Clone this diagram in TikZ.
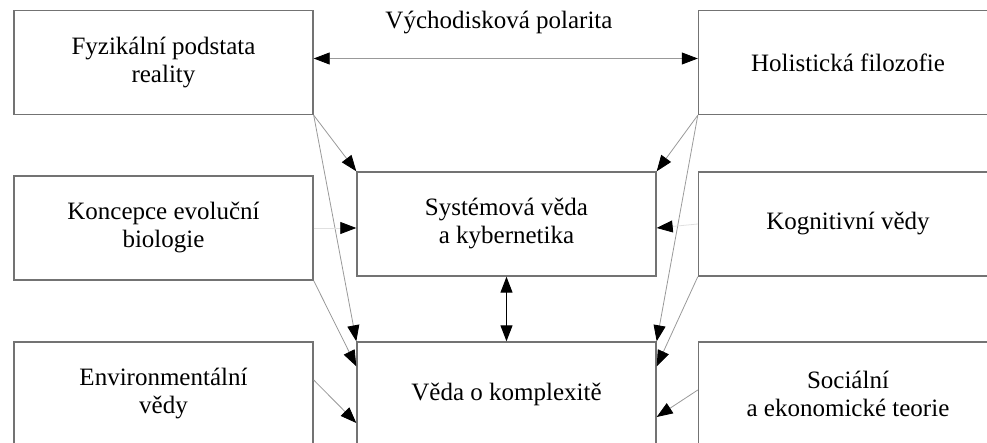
\documentclass[tikz,border=0pt]{standalone}
\usepackage{fontspec}
\setmainfont{Liberation Serif}
\usepackage{tikz}
\usetikzlibrary{arrows.meta}

\begin{document}
\begin{tikzpicture}[x=0.5pt,y=-0.5pt]
    \tikzstyle{box} = [
      draw=black!55,
      line width=0.7pt,
      rectangle,
      anchor=center,
      minimum width=149.5pt,
      minimum height=52pt,
      align=center,
      inner sep=2pt,
      font=\fontsize{12.5}{14}\selectfont,
    ]
    \tikzstyle{dedge}  = [draw=black!40,line width=0.4pt,-{Triangle[length=8pt,width=6pt,color=black]}]
    \tikzstyle{ddedge} = [draw=black!40,line width=0.4pt,{Triangle[length=8pt,width=6pt,color=black]}-{Triangle[length=8pt,width=6pt,color=black]}]
    \tikzstyle{fedge}  = [dedge,draw=black!12]

    \useasboundingbox (0,0) rectangle (987,443);
    \clip (0,0) rectangle (987,443);

    \node[box] (fyz) at (163.5,62.5) {Fyzikální podstata\\reality};
    \node[box] (hol) at (848,62.5) {Holistická filozofie};
    \node[box] (kon) at (163.5,228) {Koncepce evoluční\\biologie};
    \node[box] (sys) at (506.5,224) {Systémová věda\\a kybernetika};
    \node[box] (kog) at (848,224) {Kognitivní vědy};
    \node[box] (env) at (163.5,394) {Environmentální\\vědy};
    \node[box] (ved) at (506.5,394) {Věda o komplexitě};
    \node[box] (soc) at (848,394) {Sociální\\a ekonomické teorie};
    \node[font=\fontsize{12.5}{14}\selectfont] (pol) at (499,23) {Východisková polarita};

    \draw[ddedge] ([yshift=2pt]fyz.east)--([yshift=2pt]hol.west);
    \draw[dedge] (fyz.south east)--(sys.north west);
    \draw[dedge] (fyz.south east)--(ved.north west);
    \draw[fedge] (kon.east)--([yshift=-2pt]sys.west);
    \draw[dedge] (kon.south east)--([yshift=-12.5pt]ved.north west);
    \draw[dedge] ([yshift=7pt]env.east)--([yshift=-14.5pt]ved.west);
    \draw[dedge] (hol.south west)--(sys.north east);
    \draw[dedge] (hol.south west)--(ved.north east);
    \draw[fedge] (kog.west)--([yshift=-2pt]sys.east);
    \draw[dedge] (kog.south west)--([yshift=-12.5pt]ved.north east);
    \draw[dedge] ([yshift=2pt]soc.west)--([yshift=-11.5pt]ved.east);
    \draw[ddedge,draw=black,line width=0.6pt] (sys.south)--(ved.north);
  \end{tikzpicture}
\end{document}
